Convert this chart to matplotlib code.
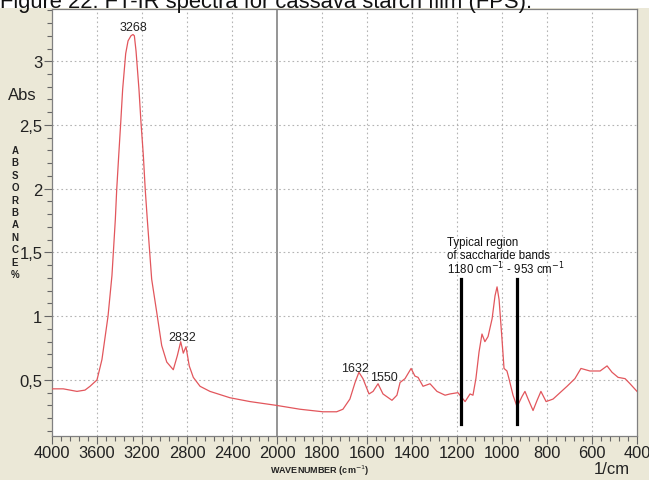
import numpy as np
import matplotlib
matplotlib.use('Agg')
import matplotlib.pyplot as plt
from matplotlib.patches import Rectangle
from matplotlib.ticker import FixedLocator, FixedFormatter

plt.rcParams['font.family'] = ['Liberation Sans', 'DejaVu Sans']

# FTIR spectrum of cassava starch film
wavenumber = [4000, 3900, 3778, 3707, 3662, 3600, 3556, 3502, 3467, 3437, 3425,
              3407, 3389, 3372, 3345, 3324, 3298, 3280, 3268, 3253, 3227, 3209,
              3188, 3171, 3153, 3114, 3069, 3025, 2980, 2922, 2886, 2856, 2833,
              2809, 2780, 2744, 2684, 2596, 2418, 2240, 2003, 1898, 1796, 1735,
              1707, 1676, 1653, 1636, 1618, 1591, 1573, 1551, 1529, 1489, 1467,
              1453, 1431, 1404, 1387, 1373, 1351, 1320, 1289, 1253, 1231, 1196,
              1164, 1142, 1129, 1116, 1102, 1089, 1076, 1062, 1044, 1031, 1022,
              1013, 1000, 991, 978, 969, 951, 933, 911, 898, 884, 862, 844, 827,
              804, 773, 711, 676, 649, 609, 564, 533, 511, 484, 453, 431, 400]
absorbance = [0.43, 0.43, 0.41, 0.42, 0.45, 0.50, 0.66, 1.00, 1.32, 1.76, 1.99,
              2.26, 2.52, 2.78, 3.06, 3.16, 3.20, 3.21, 3.20, 3.08, 2.78, 2.52,
              2.26, 1.99, 1.76, 1.29, 1.03, 0.77, 0.64, 0.58, 0.69, 0.80, 0.71,
              0.76, 0.61, 0.52, 0.45, 0.41, 0.36, 0.33, 0.30, 0.27, 0.25, 0.25,
              0.27, 0.35, 0.48, 0.56, 0.51, 0.39, 0.41, 0.47, 0.39, 0.34, 0.38,
              0.48, 0.51, 0.59, 0.53, 0.52, 0.45, 0.47, 0.41, 0.38, 0.39, 0.40,
              0.33, 0.39, 0.38, 0.51, 0.72, 0.86, 0.80, 0.84, 0.98, 1.16, 1.23,
              1.13, 0.82, 0.59, 0.57, 0.51, 0.38, 0.29, 0.37, 0.41, 0.35, 0.26,
              0.34, 0.41, 0.33, 0.35, 0.45, 0.51, 0.59, 0.57, 0.57, 0.61, 0.56,
              0.52, 0.51, 0.47, 0.41]

peak_labels = ['3268', '2832', '1632', '1550']
peak_label_x = [3280, 2844, 1653, 1524]
peak_label_y = [3.27, 0.84, 0.59, 0.52]

band_lines = [1180, 935]
band_bottom, band_top = 0.156, 1.29
band_text = ['Typical region', 'of saccharide bands', '1180 cm$^{-1}$ - 953 cm$^{-1}$']
band_text_y = [1.58, 1.48, 1.375]

x_major = [4000, 3600, 3200, 2800, 2400, 2000, 1800, 1600, 1400, 1200, 1000, 800, 600, 400]
y_major = [0.5, 1, 1.5, 2, 2.5, 3]
y_labels = ['0,5', '1', '1,5', '2', '2,5', '3']

W, H = 649, 481
BEIGE = '#ebe8d7'


def fwd(x):
    x = np.asarray(x, dtype=float)
    return np.where(x > 2000, 2000 + (x - 2000) / 2, x)


def inv(u):
    u = np.asarray(u, dtype=float)
    return np.where(u > 2000, 2000 + (u - 2000) * 2, u)


fig = plt.figure(figsize=(W / 100, H / 100), dpi=100, facecolor=BEIGE)
ax = fig.add_axes([52 / W, 1 - 437 / H, (637 - 52) / W, (437 - 10) / H])
ax.set_xscale('function', functions=(fwd, inv))
ax.set_xlim(4000, 400)
ax.set_ylim(0.06, 3.41)

# grid
for xv in x_major:
    if xv == 2000:
        ax.axvline(xv, color='#8c8c8c', lw=1.3, zorder=1)
    elif xv not in (4000, 400):
        ax.axvline(xv, color='#b4b4b4', lw=0.8, ls=(0, (1.5, 2.5)), zorder=1)
for yv in y_major:
    ax.axhline(yv, color='#b4b4b4', lw=0.8, ls=(0, (1.5, 2.5)), zorder=1)

ax.plot(wavenumber, absorbance, color='#e2565c', lw=0.9, zorder=3)

for b in band_lines:
    ax.plot([b, b], [band_bottom, band_top], color='black', lw=2.3, zorder=4)

for lab, lx, ly in zip(peak_labels, peak_label_x, peak_label_y):
    ax.text(lx, ly, lab, ha='center', va='center', fontsize=9, color='#222222', zorder=5)

for t, ty in zip(band_text, band_text_y):
    ax.text(1244, ty, t, fontsize=8.3, ha='left', va='center', color='#111111')

# ticks
x_minor = list(range(3920, 2000, -80)) + list(range(1960, 400, -40))
x_minor = [v for v in x_minor if v not in x_major]
ax.xaxis.set_major_locator(FixedLocator(x_major))
ax.xaxis.set_major_formatter(FixedFormatter([str(v) for v in x_major]))
ax.xaxis.set_minor_locator(FixedLocator(x_minor))
ax.xaxis.set_minor_formatter(FixedFormatter([''] * len(x_minor)))
ax.yaxis.set_major_locator(FixedLocator(y_major))
ax.yaxis.set_major_formatter(FixedFormatter(y_labels))
ax.yaxis.set_minor_locator(FixedLocator([round(0.1 * i, 1) for i in range(1, 35)]))
ax.tick_params(axis='both', which='major', direction='out', length=6, width=0.8,
               color='#666666', labelsize=12, labelcolor='#222222')
ax.tick_params(axis='both', which='minor', direction='out', length=3.5, width=0.8,
               color='#666666')
ax.tick_params(axis='x', pad=0.5, labelsize=11.8)
ax.tick_params(axis='y', pad=1)
for s in ax.spines.values():
    s.set_color('#808080')
    s.set_linewidth(0.9)

# axis texts
fig.text(22 / W, 1 - 95 / H, 'Abs', fontsize=12, ha='center', va='center', color='#222222')
fig.text(15 / W, 1 - 146 / H, '\n'.join('ABSORBANCE%'), fontsize=7, fontweight='bold',
         ha='center', va='top', linespacing=1.3, color='#222222')
fig.text(320 / W, 1 - 471 / H, 'WAVENUMBER (cm$^{-1}$)', fontsize=6.5, fontweight='bold',
         ha='center', va='center', color='#222222')
fig.text(612 / W, 1 - 470 / H, '1/cm', fontsize=12, ha='center', va='center', color='#222222')

# cut-off caption at the top
fig.patches.append(Rectangle((0, 1 - 9 / H), 1, 9 / H, transform=fig.transFigure,
                             facecolor='white', edgecolor='none', zorder=1))
fig.text(0.0, 1 - 8 / H, 'Figure 22. FT-IR spectra for cassava starch film (FPS).',
         fontsize=15.8, ha='left', va='baseline', color='#111111', zorder=3)

fig.savefig('out.png', dpi=100, facecolor=BEIGE)
